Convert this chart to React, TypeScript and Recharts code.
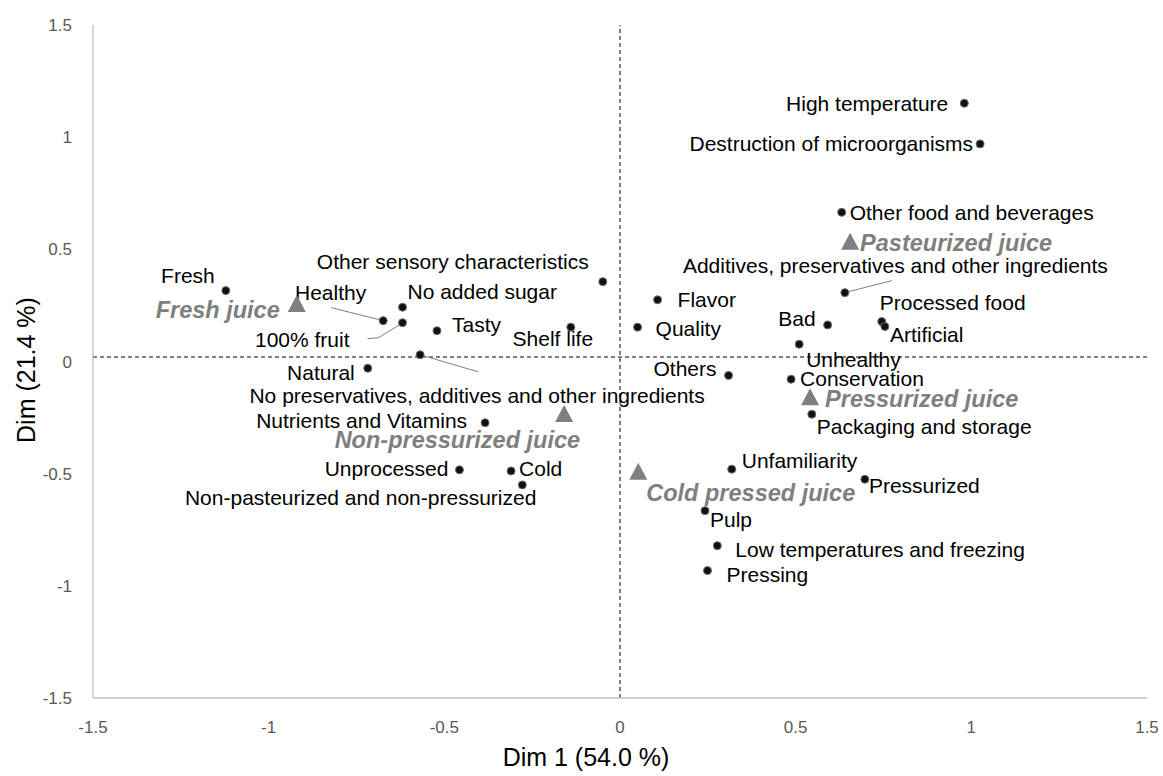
import { ScatterChart, Scatter, XAxis, YAxis, ReferenceLine, Label } from 'recharts';

const FONT = '"Liberation Sans", Arial, sans-serif';

// word associations (black dots)
const attributeNames = [
  'High temperature',
  'Destruction of microorganisms',
  'Other food and beverages',
  'Additives, preservatives and other ingredients',
  'Processed food',
  'Artificial',
  'Bad',
  'Unhealthy',
  'Conservation',
  'Packaging and storage',
  'Others',
  'Flavor',
  'Quality',
  'Other sensory characteristics',
  'Shelf life',
  'Tasty',
  'No added sugar',
  '100% fruit',
  'Healthy',
  'Fresh',
  'No preservatives, additives and other ingredients',
  'Natural',
  'Nutrients and Vitamins',
  'Unprocessed',
  'Cold',
  'Non-pasteurized and non-pressurized',
  'Unfamiliarity',
  'Pressurized',
  'Pulp',
  'Low temperatures and freezing',
  'Pressing',
];
const attributeDim1 = [
  0.98, 1.025, 0.631, 0.64, 0.745, 0.754, 0.591, 0.51, 0.487, 0.546, 0.309, 0.107, 0.05, -0.049,
  -0.14, -0.521, -0.619, -0.619, -0.674, -1.122, -0.569, -0.718, -0.384, -0.457, -0.31, -0.278,
  0.318, 0.697, 0.242, 0.277, 0.249,
];
const attributeDim2 = [
  1.151, 0.97, 0.665, 0.307, 0.178, 0.156, 0.163, 0.077, -0.079, -0.235, -0.062, 0.275, 0.153,
  0.356, 0.153, 0.137, 0.242, 0.173, 0.182, 0.316, 0.03, -0.03, -0.273, -0.483, -0.488, -0.55,
  -0.48, -0.525, -0.665, -0.821, -0.932,
];

// juice types (grey triangles)
const productNames = [
  'Fresh juice',
  'Pasteurized juice',
  'Non-pressurized juice',
  'Cold pressed juice',
  'Pressurized juice',
];
const productDim1 = [-0.92, 0.655, -0.159, 0.052, 0.541];
const productDim2 = [0.252, 0.529, -0.238, -0.496, -0.164];

const axisTicks = [-1.5, -1, -0.5, 0, 0.5, 1, 1.5];

const attributeData = attributeNames.map((name, i) => ({ name, x: attributeDim1[i], y: attributeDim2[i] }));
const productData = productNames.map((name, i) => ({ name, x: productDim1[i], y: productDim2[i] }));

type Layout = { dx: number; dy: number; anchor: 'start' | 'middle' | 'end'; leader?: number[][] };

// label offsets in px from the marker
const labelLayout: Record<string, Layout> = {
  'High temperature': { dx: -16, dy: 0, anchor: 'end' },
  'Destruction of microorganisms': { dx: -7, dy: 0, anchor: 'end' },
  'Other food and beverages': { dx: 8, dy: 0, anchor: 'start' },
  'Additives, preservatives and other ingredients': { dx: 263, dy: -27, anchor: 'end', leader: [[0, 0], [47, -12]] },
  'Processed food': { dx: -2, dy: -19, anchor: 'start' },
  Artificial: { dx: 5, dy: 8, anchor: 'start' },
  Bad: { dx: -12, dy: -6, anchor: 'end' },
  Unhealthy: { dx: 7, dy: 15, anchor: 'start' },
  Conservation: { dx: 9, dy: -1, anchor: 'start' },
  'Packaging and storage': { dx: 5, dy: 12, anchor: 'start' },
  Others: { dx: -12, dy: -7, anchor: 'end' },
  Flavor: { dx: 20, dy: 0, anchor: 'start' },
  Quality: { dx: 18, dy: 1, anchor: 'start' },
  'Other sensory characteristics': { dx: -14, dy: -20, anchor: 'end' },
  'Shelf life': { dx: -18, dy: 11, anchor: 'middle' },
  Tasty: { dx: 15, dy: -6, anchor: 'start' },
  'No added sugar': { dx: 5, dy: -16, anchor: 'start' },
  '100% fruit': { dx: -53, dy: 17, anchor: 'end', leader: [[-35, 16], [-24, 15], [-3, 2]] },
  Healthy: { dx: -17, dy: -28, anchor: 'end', leader: [[-52, -13], [-4, -1]] },
  Fresh: { dx: -11, dy: -15, anchor: 'end' },
  'No preservatives, additives and other ingredients': { dx: 57, dy: 41, anchor: 'middle', leader: [[0, 0], [58, 17]] },
  Natural: { dx: -13, dy: 4, anchor: 'end' },
  'Nutrients and Vitamins': { dx: -18, dy: -2, anchor: 'end' },
  Unprocessed: { dx: -11, dy: -1, anchor: 'end' },
  Cold: { dx: 8, dy: -2, anchor: 'start' },
  'Non-pasteurized and non-pressurized': { dx: 14, dy: 13, anchor: 'end' },
  Unfamiliarity: { dx: 10, dy: -9, anchor: 'start' },
  Pressurized: { dx: 4, dy: 6, anchor: 'start' },
  Pulp: { dx: 5, dy: 9, anchor: 'start' },
  'Low temperatures and freezing': { dx: 18, dy: 4, anchor: 'start' },
  Pressing: { dx: 19, dy: 4, anchor: 'start' },
  'Fresh juice': { dx: -17, dy: 5, anchor: 'end' },
  'Pasteurized juice': { dx: 10, dy: 0, anchor: 'start' },
  'Non-pressurized juice': { dx: 16, dy: 25, anchor: 'end' },
  'Cold pressed juice': { dx: 8, dy: 20, anchor: 'start' },
  'Pressurized juice': { dx: 15, dy: 1, anchor: 'start' },
};

const AttributeDot = (props: any) => {
  const { cx, cy, payload } = props;
  const l = labelLayout[payload.name];
  return (
    <g>
      {l.leader && (
        <polyline
          points={l.leader.map(([a, b]) => `${cx + a},${cy + b}`).join(' ')}
          fill="none"
          stroke="#7f7f7f"
          strokeWidth={1}
        />
      )}
      <circle cx={cx} cy={cy} r={4} fill="#111" stroke="#6f6f6f" strokeWidth={1} />
      <text
        x={cx + l.dx}
        y={cy + l.dy}
        textAnchor={l.anchor}
        dominantBaseline="central"
        fontSize={21}
        fontFamily={FONT}
        fill="#000"
      >
        {payload.name}
      </text>
    </g>
  );
};

const ProductTriangle = (props: any) => {
  const { cx, cy, payload } = props;
  const l = labelLayout[payload.name];
  return (
    <g>
      <polygon points={`${cx},${cy - 10} ${cx - 9},${cy + 7} ${cx + 9},${cy + 7}`} fill="#7f7f7f" />
      <text
        x={cx + l.dx}
        y={cy + l.dy}
        textAnchor={l.anchor}
        dominantBaseline="central"
        fontSize={23.5}
        fontWeight="bold"
        fontStyle="italic"
        fontFamily={FONT}
        fill="#7f7f7f"
      >
        {payload.name}
      </text>
    </g>
  );
};

const tickStyle = { fill: '#595959', fontSize: 17, fontFamily: FONT };

export default function App() {
  return (
    <div style={{ position: 'absolute', left: 0, top: 0, background: '#fff' }}>
      <ScatterChart width={1163} height={776} margin={{ top: 25, right: 16, left: 0, bottom: 0 }}>
        <XAxis
          type="number"
          dataKey="x"
          domain={[-1.5, 1.5]}
          ticks={axisTicks}
          tickLine={false}
          tickSize={0}
          tickMargin={23}
          height={78}
          tick={tickStyle}
          axisLine={{ stroke: '#bfbfbf', strokeWidth: 1.3 }}
        >
          <Label
            content={() => (
              <text x={586} y={757} textAnchor="middle" dominantBaseline="central" fontSize={25} fontFamily={FONT} fill="#000">
                Dim 1 (54.0 %)
              </text>
            )}
          />
        </XAxis>
        <YAxis
          type="number"
          dataKey="y"
          domain={[-1.5, 1.5]}
          ticks={axisTicks}
          tickLine={false}
          tickSize={0}
          tickMargin={21}
          width={93}
          tick={tickStyle}
          axisLine={{ stroke: '#bfbfbf', strokeWidth: 1.3 }}
        >
          <Label
            content={() => (
              <text
                x={26}
                y={370}
                transform="rotate(-90, 26, 370)"
                textAnchor="middle"
                dominantBaseline="central"
                fontSize={25}
                fontFamily={FONT}
                fill="#000"
              >
                Dim (21.4 %)
              </text>
            )}
          />
        </YAxis>
        <ReferenceLine x={0} stroke="#000" strokeDasharray="4 3" />
        <ReferenceLine y={0.02} stroke="#000" strokeDasharray="4 3" />
        <Scatter data={attributeData} shape={AttributeDot} isAnimationActive={false} />
        <Scatter data={productData} shape={ProductTriangle} isAnimationActive={false} />
      </ScatterChart>
    </div>
  );
}
